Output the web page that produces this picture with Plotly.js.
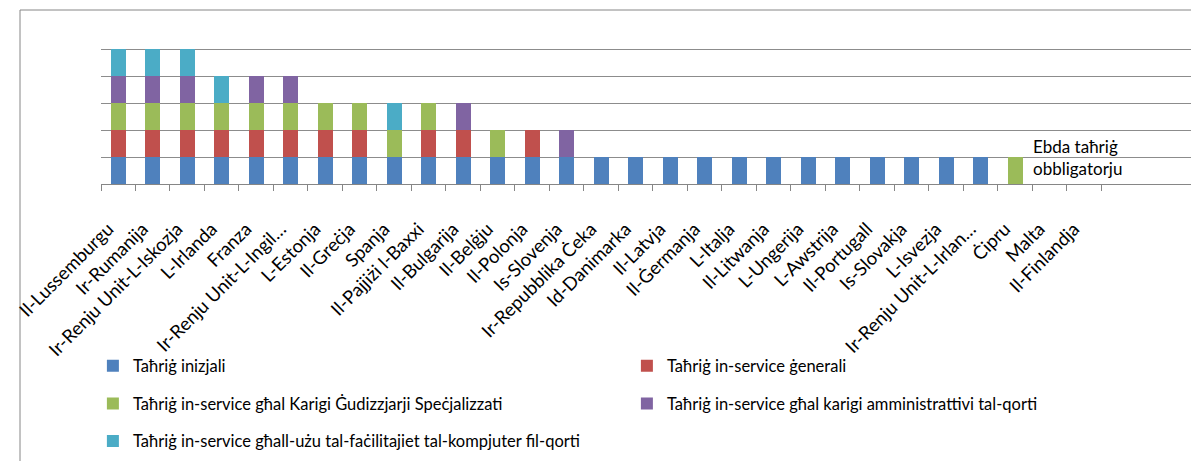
<!DOCTYPE html>
<html>
<head>
<meta charset="utf-8">
<script src="https://cdn.plot.ly/plotly-3.0.1.min.js"></script>
<style>html,body{margin:0;padding:0;background:#fff;}#chart{width:1191px;height:461px;}</style>
</head>
<body>
<div id="chart"></div>
<script>
const categories = [
  "Il-Lussemburgu", "Ir-Rumanija", "Ir-Renju Unit-L-Iskozja", "L-Irlanda", "Franza",
  "Ir-Renju Unit-L-Ingil…", "L-Estonja", "Il-Greċja", "Spanja", "Il-Pajjiżi l-Baxxi",
  "Il-Bulgarija", "Il-Belġju", "Il-Polonja", "Is-Slovenja", "Ir-Repubblika Ċeka",
  "Id-Danimarka", "Il-Latvja", "Il-Ġermanja", "L-Italja", "Il-Litwanja",
  "L-Ungerija", "L-Awstrija", "Il-Portugall", "Is-Slovakja", "L-Isvezja",
  "Ir-Renju Unit-L-Irlan…", "Ċipru", "Malta", "Il-Finlandja"
];
const seriesNames = [
  "Taħriġ inizjali",
  "Taħriġ in-service ġenerali",
  "Taħriġ in-service għal Karigi Ġudizzjarji Speċjalizzati",
  "Taħriġ in-service għal karigi amministrattivi tal-qorti",
  "Taħriġ in-service għall-użu tal-faċilitajiet tal-kompjuter fil-qorti"
];
const inizjali        = [1,1,1,1,1,1,1,1,1,1,1,1,1,1,1,1,1,1,1,1,1,1,1,1,1,1,0,0,0];
const generali        = [1,1,1,1,1,1,1,1,0,1,1,0,1,0,0,0,0,0,0,0,0,0,0,0,0,0,0,0,0];
const gudizzjarji     = [1,1,1,1,1,1,1,1,1,1,0,1,0,0,0,0,0,0,0,0,0,0,0,0,0,0,1,0,0];
const amministrattivi = [1,1,1,0,1,1,0,0,0,0,1,0,0,1,0,0,0,0,0,0,0,0,0,0,0,0,0,0,0];
const kompjuter       = [1,1,1,1,0,0,0,0,1,0,0,0,0,0,0,0,0,0,0,0,0,0,0,0,0,0,0,0,0];
const noteText = "Ebda taħriġ<br>obbligatorju";

const colors = ["#4F81BD", "#C0504D", "#9BBB59", "#8064A2", "#4BACC6"];
const values = [inizjali, generali, gudizzjarji, amministrattivi, kompjuter];
const legendIds = ["legend", "legend", "legend2", "legend2", "legend3"];

const traces = values.map((v, i) => ({
  type: "bar",
  x: categories,
  y: v,
  name: seriesNames[i],
  marker: {color: colors[i], line: {width: 0}},
  legend: legendIds[i],
  hoverinfo: "x+y+name"
}));

const FONT = "Lato, 'Open Sans', 'DejaVu Sans', sans-serif";
const legendBase = {
  orientation: "h",
  xref: "container", yref: "container",
  x: 0.078, xanchor: "left", yanchor: "middle",
  font: {family: FONT, size: 16.5, color: "#000"},
  entrywidth: 489, entrywidthmode: "pixels",
  bgcolor: "rgba(0,0,0,0)", borderwidth: 0,
  traceorder: "normal"
};

const layout = {
  width: 1191, height: 461,
  margin: {l: 101, r: 0, t: 22, b: 277},
  paper_bgcolor: "#fff", plot_bgcolor: "#fff",
  barmode: "stack",
  bargap: 0.565,
  font: {family: FONT, size: 15, color: "#000"},
  xaxis: {
    type: "category",
    range: [-0.5, 31.1],
    tickangle: -45,
    tickson: "boundaries",
    ticks: "outside", ticklen: 6, tickcolor: "#868686",
    showline: true, linecolor: "#868686", linewidth: 1,
    showgrid: false,
    tickfont: {family: FONT, size: 18.5, color: "#000"},
    ticklabelstandoff: 26,
    ticklabelshift: -10,
    automargin: false
  },
  yaxis: {
    range: [0, 6],
    dtick: 1,
    showticklabels: false,
    showgrid: true, gridcolor: "#8c8c8c", gridwidth: 1,
    zeroline: false, showline: false, ticks: ""
  },
  showlegend: true,
  legend: Object.assign({}, legendBase, {y: 0.206}),
  legend2: Object.assign({}, legendBase, {y: 0.124}),
  legend3: Object.assign({}, legendBase, {y: 0.043}),
  annotations: [{
    x: categories[26], y: 1, xref: "x", yref: "y",
    xanchor: "left", yanchor: "middle", xshift: 16,
    text: noteText, showarrow: false, align: "left",
    font: {family: FONT, size: 17, color: "#000"}
  }],
  shapes: [{
    type: "rect", xref: "paper", yref: "paper",
    x0: -0.0743, x1: 1.05, y0: -1.8, y1: 1.074,
    line: {color: "#868686", width: 1}, fillcolor: "rgba(0,0,0,0)", layer: "below"
  }]
};

Plotly.newPlot("chart", traces, layout, {displayModeBar: false, staticPlot: true});
</script>
</body>
</html>
